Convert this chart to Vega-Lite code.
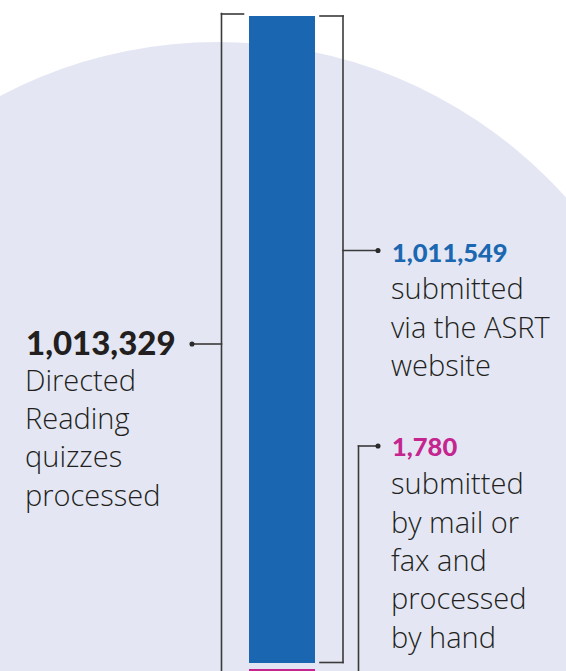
{
  "$schema": "https://vega.github.io/schema/vega-lite/v6.json",
  "width": 566,
  "height": 671,
  "autosize": {"type": "none"},
  "padding": 0,
  "background": "white",
  "config": {"view": {"stroke": null}},
  "datasets": {
    "quizzes": [
      {"channel": "Submitted via the ASRT website", "quizzes": 1011549},
      {"channel": "Submitted by mail or fax and processed by hand", "quizzes": 1780}
    ],
    "backdrop": [{"cx": 218, "cy": 509}],
    "brackets": [
      {"segment": "total", "x": 221.5, "y": 13.5, "x2": 221.5, "y2": 675},
      {"segment": "total", "x": 221.5, "y": 14, "x2": 243.5, "y2": 14},
      {"segment": "total", "x": 192, "y": 344, "x2": 221.5, "y2": 344},
      {"segment": "website", "x": 343, "y": 16, "x2": 343, "y2": 662.5},
      {"segment": "website", "x": 320, "y": 16, "x2": 343, "y2": 16},
      {"segment": "website", "x": 320, "y": 662.5, "x2": 343, "y2": 662.5},
      {"segment": "website", "x": 343, "y": 250.5, "x2": 378, "y2": 250.5},
      {"segment": "mail", "x": 358.5, "y": 446, "x2": 358.5, "y2": 675},
      {"segment": "mail", "x": 358.5, "y": 446, "x2": 378, "y2": 446}
    ],
    "dots": [
      {"segment": "total", "x": 192, "y": 344},
      {"segment": "website", "x": 378, "y": 250.5},
      {"segment": "mail", "x": 378, "y": 446}
    ],
    "numbers": [
      {"segment": "total", "label": "1,013,329", "x": 26, "y": 354.5},
      {"segment": "website", "label": "1,011,549", "x": 392, "y": 262},
      {"segment": "mail", "label": "1,780", "x": 392, "y": 456}
    ],
    "descriptions": [
      {"segment": "total", "label": "Directed\nReading\nquizzes\nprocessed", "x": 25, "y": 390.7},
      {"segment": "website", "label": "submitted\nvia the ASRT\nwebsite", "x": 391, "y": 299.3},
      {"segment": "mail", "label": "submitted\nby mail or\nfax and\nprocessed\nby hand", "x": 391, "y": 494.3}
    ]
  },
  "resolve": {"scale": {"y": "independent"}},
  "layer": [
    {
      "data": {"name": "backdrop"},
      "mark": {"type": "point", "shape": "circle", "filled": true, "color": "#e4e7f3", "opacity": 1, "size": 872356, "strokeWidth": 0},
      "encoding": {
        "x": {"field": "cx", "type": "quantitative", "scale": {"domain": [0, 566], "nice": false, "zero": false}, "axis": null},
        "y": {"field": "cy", "type": "quantitative", "scale": {"domain": [0, 671], "reverse": true, "nice": false, "zero": false}, "axis": null}
      }
    },
    {
      "data": {"name": "quizzes"},
      "transform": [
        {"stack": "quizzes", "groupby": [], "sort": [{"field": "quizzes", "order": "ascending"}], "as": ["q0", "q1"]},
        {"filter": "datum.quizzes > 100000"}
      ],
      "mark": {"type": "bar", "color": "#1a66b0"},
      "encoding": {
        "x": {"datum": 249, "type": "quantitative", "scale": {"domain": [0, 566], "nice": false, "zero": false}, "axis": null},
        "x2": {"datum": 315},
        "y": {"field": "q1", "type": "quantitative", "scale": {"domain": [-10730, 1038344], "nice": false, "zero": false}, "axis": null},
        "y2": {"field": "q0"}
      }
    },
    {
      "data": {"name": "quizzes"},
      "transform": [
        {"stack": "quizzes", "groupby": [], "sort": [{"field": "quizzes", "order": "ascending"}], "as": ["q0", "q1"]},
        {"filter": "datum.quizzes < 100000"}
      ],
      "mark": {"type": "bar", "color": "#c4258f", "yOffset": 6, "y2Offset": 9},
      "encoding": {
        "x": {"datum": 249, "type": "quantitative", "scale": {"domain": [0, 566], "nice": false, "zero": false}, "axis": null},
        "x2": {"datum": 315},
        "y": {"field": "q1", "type": "quantitative", "scale": {"domain": [-10730, 1038344], "nice": false, "zero": false}, "axis": null},
        "y2": {"field": "q0"}
      }
    },
    {
      "data": {"name": "brackets"},
      "mark": {"type": "rule", "color": "#3a3a3a", "strokeWidth": 1.6, "strokeCap": "square"},
      "encoding": {
        "x": {"field": "x", "type": "quantitative", "scale": {"domain": [0, 566], "nice": false, "zero": false}, "axis": null},
        "x2": {"field": "x2"},
        "y": {"field": "y", "type": "quantitative", "scale": {"domain": [0, 671], "reverse": true, "nice": false, "zero": false}, "axis": null},
        "y2": {"field": "y2"}
      }
    },
    {
      "data": {"name": "dots"},
      "mark": {"type": "point", "shape": "circle", "filled": true, "color": "#2a2a2a", "opacity": 1, "size": 26},
      "encoding": {
        "x": {"field": "x", "type": "quantitative", "scale": {"domain": [0, 566], "nice": false, "zero": false}, "axis": null},
        "y": {"field": "y", "type": "quantitative", "scale": {"domain": [0, 671], "reverse": true, "nice": false, "zero": false}, "axis": null}
      }
    },
    {
      "data": {"name": "numbers"},
      "transform": [{"filter": "datum.segment === 'total'"}],
      "mark": {"type": "text", "align": "left", "baseline": "alphabetic", "font": "Lato", "fontWeight": 900, "fontSize": 33, "color": "#231f20"},
      "encoding": {
        "x": {"field": "x", "type": "quantitative", "scale": {"domain": [0, 566], "nice": false, "zero": false}, "axis": null},
        "y": {"field": "y", "type": "quantitative", "scale": {"domain": [0, 671], "reverse": true, "nice": false, "zero": false}, "axis": null},
        "text": {"field": "label"}
      }
    },
    {
      "data": {"name": "numbers"},
      "transform": [{"filter": "datum.segment !== 'total'"}],
      "mark": {"type": "text", "align": "left", "baseline": "alphabetic", "font": "Lato", "fontWeight": 900, "fontSize": 25.5},
      "encoding": {
        "x": {"field": "x", "type": "quantitative", "scale": {"domain": [0, 566], "nice": false, "zero": false}, "axis": null},
        "y": {"field": "y", "type": "quantitative", "scale": {"domain": [0, 671], "reverse": true, "nice": false, "zero": false}, "axis": null},
        "text": {"field": "label"},
        "color": {"field": "segment", "type": "nominal", "scale": {"domain": ["website", "mail"], "range": ["#1b67b1", "#c4258f"]}, "legend": null}
      }
    },
    {
      "data": {"name": "descriptions"},
      "mark": {"type": "text", "align": "left", "baseline": "alphabetic", "font": "Open Sans", "fontWeight": 300, "fontSize": 29, "lineBreak": "\n", "lineHeight": 38.4, "color": "#231f20"},
      "encoding": {
        "x": {"field": "x", "type": "quantitative", "scale": {"domain": [0, 566], "nice": false, "zero": false}, "axis": null},
        "y": {"field": "y", "type": "quantitative", "scale": {"domain": [0, 671], "reverse": true, "nice": false, "zero": false}, "axis": null},
        "text": {"field": "label"}
      }
    }
  ]
}
